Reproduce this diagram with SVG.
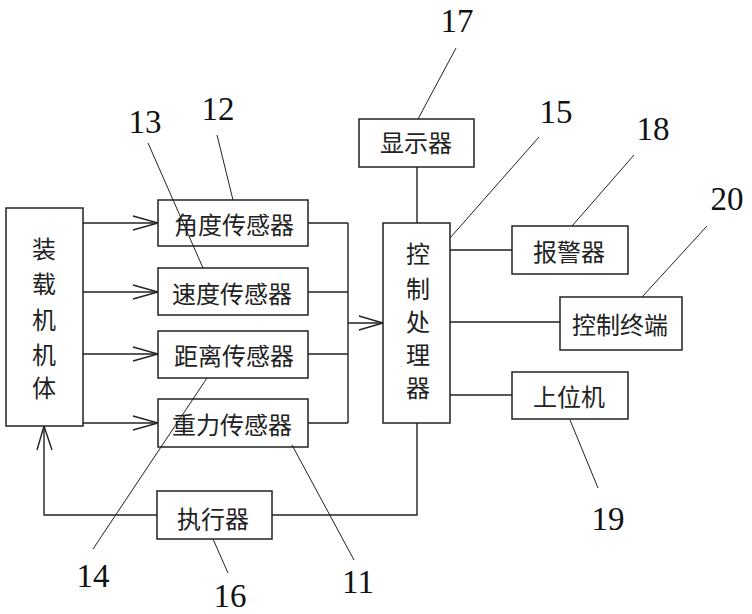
<svg xmlns="http://www.w3.org/2000/svg" width="752" height="614" viewBox="0 0 752 614">
<style>
.box{fill:#fff;stroke:#222;stroke-width:1.5}
.ln{fill:none;stroke:#222;stroke-width:1.4}
.ld{fill:none;stroke:#222;stroke-width:1}
.cn{font-family:"Noto Sans CJK SC","Noto Sans CJK JP",sans-serif;font-size:24px;fill:#222;text-anchor:middle;dominant-baseline:central}
.num{font-family:"Liberation Serif",serif;font-size:33px;fill:#111;text-anchor:middle}
</style>
<rect width="752" height="614" fill="#fff"/>
<g id="connectors">
<path class="ln" d="M83 223H158M83 292H158M83 354H158M83 423H158"/>
<path class="ln" d="M133 216L158 223L133 230M133 285L158 292L133 299M133 347L158 354L133 361M133 416L158 423L133 430"/>
<path class="ln" d="M308 223H348M308 292H348M308 354H348M308 423H348M348 223V423M348 323H383"/>
<path class="ln" d="M359 316L383 323L359 330"/>
<path class="ln" d="M417 167V223M450 250H512M450 322H560M450 395H512"/>
<path class="ln" d="M417 423V515H272M157 515H44V426"/>
<path class="ln" d="M37 450L44 426L52 450"/>
</g>
<g id="n_body"><rect class="box" x="6" y="208" width="77" height="218"/>
<text class="cn" x="44" y="247">装</text><text class="cn" x="44" y="282">载</text><text class="cn" x="44" y="318">机</text><text class="cn" x="44" y="353">机</text><text class="cn" x="44" y="386">体</text></g>
<g id="n_angle"><rect class="box" x="158" y="200" width="150" height="46"/><text class="cn" x="234" y="223">角度传感器</text></g>
<g id="n_speed"><rect class="box" x="158" y="268" width="150" height="47"/><text class="cn" x="232" y="292">速度传感器</text></g>
<g id="n_dist"><rect class="box" x="158" y="331" width="150" height="47"/><text class="cn" x="234" y="354">距离传感器</text></g>
<g id="n_grav"><rect class="box" x="158" y="399" width="150" height="48"/><text class="cn" x="232" y="423">重力传感器</text></g>
<g id="n_ctrl"><rect class="box" x="383" y="223" width="67" height="200"/>
<text class="cn" x="418" y="252">控</text><text class="cn" x="418" y="287">制</text><text class="cn" x="418" y="320">处</text><text class="cn" x="418" y="353">理</text><text class="cn" x="418" y="386">器</text></g>
<g id="n_disp"><rect class="box" x="359" y="119" width="115" height="48"/><text class="cn" x="416" y="141">显示器</text></g>
<g id="n_alarm"><rect class="box" x="512" y="226" width="116" height="48"/><text class="cn" x="569" y="250">报警器</text></g>
<g id="n_term"><rect class="box" x="560" y="297" width="122" height="53"/><text class="cn" x="620" y="323">控制终端</text></g>
<g id="n_host"><rect class="box" x="512" y="372" width="116" height="47"/><text class="cn" x="569" y="395">上位机</text></g>
<g id="n_exec"><rect class="box" x="157" y="491" width="115" height="48"/><text class="cn" x="213" y="517">执行器</text></g>
<g id="leaders">
<path class="ld" d="M456 48L418 119M217 135L233 200M148 143L203 268M539 137L450 238M634 155L572 226M707 226L642 297M570 420L598 488M93 549L207 378M354 560L292 445M228 573L213 539"/>
</g>
<g id="labels">
<text class="num" x="457" y="32">17</text>
<text class="num" x="218" y="120">12</text>
<text class="num" x="145" y="133">13</text>
<text class="num" x="556" y="123">15</text>
<text class="num" x="653" y="140">18</text>
<text class="num" x="727" y="210">20</text>
<text class="num" x="608" y="530">19</text>
<text class="num" x="93" y="587">14</text>
<text class="num" x="230" y="607">16</text>
<text class="num" x="358" y="593">11</text>
</g>
</svg>
